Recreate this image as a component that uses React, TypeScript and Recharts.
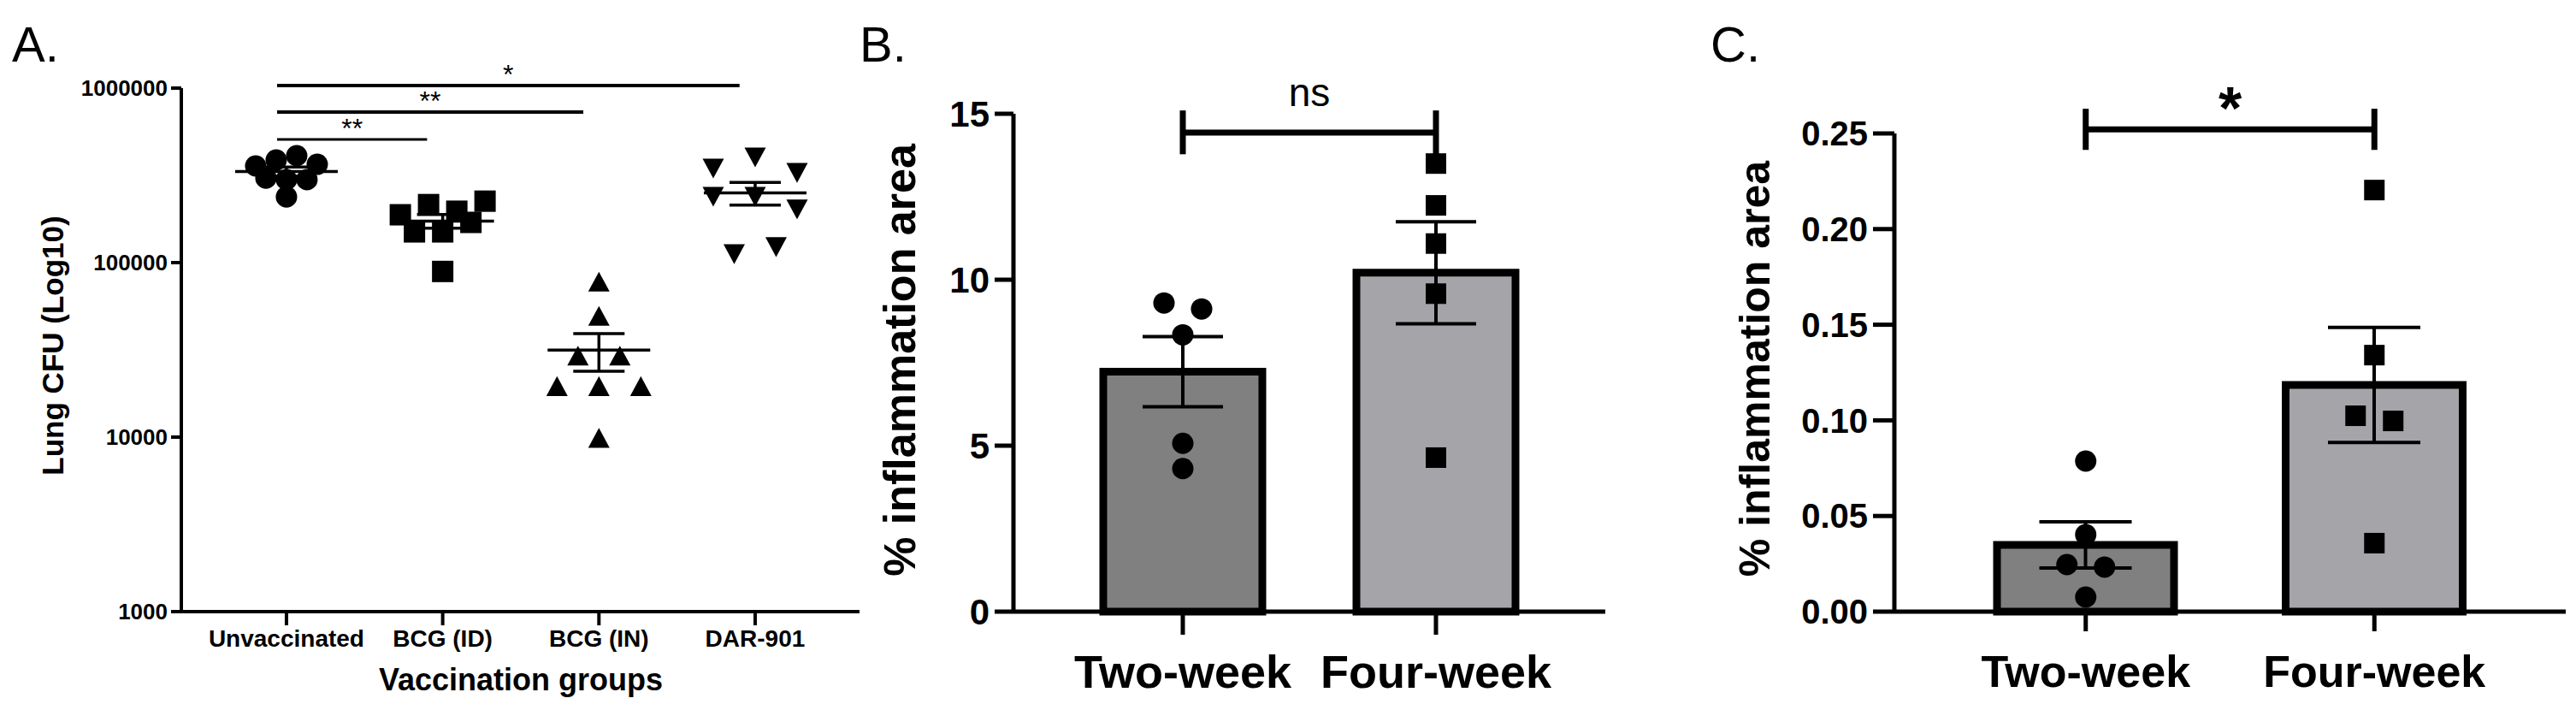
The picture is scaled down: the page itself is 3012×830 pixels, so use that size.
import React from "react";
import {
  ScatterChart,
  ComposedChart,
  Scatter,
  Bar,
  Cell,
  XAxis,
  YAxis,
  ErrorBar,
  ReferenceLine,
} from "recharts";

// Panel A: lung CFU per vaccination group (log axis)
const GROUPS_A = ["Unvaccinated", "BCG (ID)", "BCG (IN)", "DAR-901"];
const UNVACCINATED = [358000, 387000, 410000, 366000, 305000, 299000, 299000, 238000];
const BCG_ID = [188000, 215000, 197000, 225000, 150000, 150000, 170000, 89000];
const BCG_IN = [77000, 49000, 29000, 29000, 19400, 19400, 19400, 9800];
const DAR_901 = [350000, 405000, 330000, 241000, 241000, 204000, 113000, 124000];
const CFU_TICKS = [1000, 10000, 100000, 1000000];
const SIG_A = [
  { to: 3, level: 1035000, text: "*" },
  { to: 2, level: 730000, text: "**" },
  { to: 1, level: 508000, text: "**" },
];

// Panels B and C: % inflammation area
const WEEKS = ["Two-week", "Four-week"];
const B_TWO_WEEK = [9.3, 9.12, 8.34, 5.07, 4.31];
const B_FOUR_WEEK = [13.5, 12.24, 11.09, 9.58, 4.64];
const B_TICKS = [0, 5, 10, 15];
const C_TWO_WEEK = [0.0787, 0.0403, 0.0246, 0.0233, 0.0076];
const C_FOUR_WEEK = [0.2204, 0.1341, 0.1024, 0.0997, 0.0358];
const C_TICKS = [0, 0.05, 0.1, 0.15, 0.2, 0.25];

const FONT = '"Liberation Sans", Arial, sans-serif';
const BAR_COLORS = ["#808080", "#a5a4a9"];

const mean = (v: number[]) => v.reduce((a, b) => a + b, 0) / v.length;
const sem = (v: number[]) => {
  const m = mean(v);
  const sd = Math.sqrt(v.reduce((a, b) => a + (b - m) ** 2, 0) / (v.length - 1));
  return sd / Math.sqrt(v.length);
};

// prism style column scatter: points close in y share a row and are spread sideways
function spread(values: number[], toPx: (v: number) => number, rowPx: number, gap: number) {
  const order = values.map((_, i) => i).sort((a, b) => values[b] - values[a]);
  const dx = new Array(values.length).fill(0);
  let i = 0;
  while (i < order.length) {
    const start = toPx(values[order[i]]);
    let j = i;
    while (j < order.length && start - toPx(values[order[j]]) < rowPx) j++;
    const row = order.slice(i, j).sort((a, b) => a - b);
    row.forEach((idx, k) => {
      dx[idx] = (k - (row.length - 1) / 2) * gap;
    });
    i = j;
  }
  return dx;
}

function Marker({ kind, cx, cy, size }: { kind: string; cx: number; cy: number; size: number }) {
  const h = size / 2;
  if (kind === "circle") return <circle cx={cx} cy={cy} r={h} fill="#000" />;
  if (kind === "square")
    return <rect x={cx - h} y={cy - h} width={size} height={size} fill="#000" />;
  if (kind === "up")
    return <path d={`M${cx},${cy - h} L${cx + h},${cy + h * 0.85} L${cx - h},${cy + h * 0.85} Z`} fill="#000" />;
  return <path d={`M${cx},${cy + h} L${cx + h},${cy - h * 0.85} L${cx - h},${cy - h * 0.85} Z`} fill="#000" />;
}

const PanelA = () => {
  const sets = [UNVACCINATED, BCG_ID, BCG_IN, DAR_901];
  const kinds = ["circle", "square", "up", "down"];
  const gaps = [24, 33, 49, 49];
  const pxPerDecade = (715 - 103) / 3;
  const points = sets.map((vals, gi) => {
    const dx = spread(vals, (v) => Math.log10(v) * pxPerDecade, 20, gaps[gi]);
    return vals.map((v, i) => ({ x: gi, value: v, dx: dx[i] }));
  });
  const summary = sets.map((vals, gi) => ({ x: gi, mean: mean(vals), sem: sem(vals) }));

  return (
    <ScatterChart width={1010} height={830} margin={{ top: 103, right: 5, bottom: 15, left: 0 }}>
      <XAxis
        type="number"
        dataKey="x"
        domain={[-0.673, 3.668]}
        allowDataOverflow
        ticks={[0, 1, 2, 3]}
        interval={0}
        tickFormatter={(i: number) => GROUPS_A[i]}
        height={100}
        tickSize={16}
        tickMargin={5}
        axisLine={{ stroke: "#000", strokeWidth: 4 }}
        tickLine={{ stroke: "#000", strokeWidth: 4 }}
        tick={{ fontSize: 28, fontWeight: "bold", fill: "#000", fontFamily: FONT }}
      />
      <YAxis
        type="number"
        scale="log"
        domain={[1000, 1000000]}
        allowDataOverflow
        ticks={CFU_TICKS}
        interval={0}
        width={212}
        tickSize={12}
        tickMargin={4}
        axisLine={{ stroke: "#000", strokeWidth: 4 }}
        tickLine={{ stroke: "#000", strokeWidth: 4 }}
        tick={{ fontSize: 26, fontWeight: "bold", fill: "#000", fontFamily: FONT }}
      />
      {points.map((pts, gi) => (
        <Scatter
          key={GROUPS_A[gi]}
          data={pts}
          dataKey="value"
          isAnimationActive={false}
          shape={(p: any) => <Marker kind={kinds[gi]} cx={p.cx + p.payload.dx} cy={p.cy} size={25} />}
        />
      ))}
      <Scatter
        data={summary}
        dataKey="mean"
        isAnimationActive={false}
        shape={(p: any) => (
          <line x1={p.cx - 60} x2={p.cx + 60} y1={p.cy} y2={p.cy} stroke="#000" strokeWidth={3.5} />
        )}
      >
        <ErrorBar dataKey="sem" direction="y" width={30} stroke="#000" strokeWidth={3.5} />
      </Scatter>
      {SIG_A.map((s, i) => (
        <ReferenceLine
          key={i}
          segment={[
            { x: -0.06, y: s.level },
            { x: s.to - 0.1, y: s.level },
          ]}
          ifOverflow="visible"
          stroke="#000"
          strokeWidth={i === 2 ? 3 : 4}
          label={{ value: s.text, position: "top", offset: 2, fontSize: 32, fill: "#000", fontFamily: FONT }}
        />
      ))}
    </ScatterChart>
  );
};

type BarPanelProps = {
  two: number[];
  four: number[];
  ticks: number[];
  fmt: (v: number) => string;
  width: number;
  top: number;
  right: number;
  yWidth: number;
  pad: number;
  barSize: number;
  cap: number;
  tickFont: number;
  catFont: number;
  yTickSize: number;
  xTickSize: number;
  bracket: { y: number; lo: number; hi: number; text: string; size: number; bold: boolean; offset: number };
};

const BarPanel = (props: BarPanelProps) => {
  const { two, four, ticks, width, top, right } = props;
  const plotPx = 830 - 15 - 100 - top;
  const pxPerUnit = plotPx / ticks[ticks.length - 1];
  const bars = WEEKS.map((name, i) => {
    const vals = i === 0 ? two : four;
    return { name, mean: mean(vals), sem: sem(vals) };
  });
  const pts = [two, four].map((vals, i) => {
    const dx = spread(vals, (v) => v * pxPerUnit, 20, 44);
    return vals.map((v, k) => ({ name: WEEKS[i], value: v, dx: dx[k] }));
  });
  const axisStyle = { stroke: "#000", strokeWidth: 5 };
  const b = props.bracket;

  return (
    <ComposedChart width={width} height={830} data={bars} margin={{ top, right, bottom: 15, left: 0 }}>
      <XAxis
        dataKey="name"
        type="category"
        allowDuplicatedCategory={false}
        padding={{ left: props.pad, right: props.pad }}
        height={100}
        tickSize={props.xTickSize}
        tickMargin={51 - props.xTickSize}
        axisLine={axisStyle}
        tickLine={axisStyle}
        tick={{ fontSize: props.catFont, fontWeight: "bold", fill: "#000", fontFamily: FONT }}
      />
      <YAxis
        type="number"
        domain={[ticks[0], ticks[ticks.length - 1]]}
        ticks={ticks}
        interval={0}
        tickFormatter={props.fmt}
        width={props.yWidth}
        tickSize={props.yTickSize}
        tickMargin={6}
        axisLine={axisStyle}
        tickLine={axisStyle}
        tick={{ fontSize: props.tickFont, fontWeight: "bold", fill: "#000", fontFamily: FONT }}
      />
      <Bar dataKey="mean" barSize={props.barSize} stroke="#000" strokeWidth={9} isAnimationActive={false}>
        {bars.map((_, i) => (
          <Cell key={i} fill={BAR_COLORS[i]} />
        ))}
        <ErrorBar dataKey="sem" direction="y" width={props.cap} stroke="#000" strokeWidth={4} />
      </Bar>
      {pts.map((p, i) => (
        <Scatter
          key={WEEKS[i]}
          data={p}
          dataKey="value"
          isAnimationActive={false}
          shape={(s: any) => (
            <Marker kind={i === 0 ? "circle" : "square"} cx={s.cx + s.payload.dx} cy={s.cy} size={i === 0 ? 25 : 24} />
          )}
        />
      ))}
      <ReferenceLine
        segment={[
          { x: WEEKS[0], y: b.y },
          { x: WEEKS[1], y: b.y },
        ]}
        ifOverflow="visible"
        stroke="#000"
        strokeWidth={7}
        label={{
          value: b.text,
          position: "top",
          offset: b.offset,
          fontSize: b.size,
          fontWeight: b.bold ? "bold" : "normal",
          fill: "#000",
          fontFamily: FONT,
        }}
      />
      {WEEKS.map((w) => (
        <ReferenceLine
          key={w}
          segment={[
            { x: w, y: b.lo },
            { x: w, y: b.hi },
          ]}
          ifOverflow="visible"
          stroke="#000"
          strokeWidth={7}
        />
      ))}
    </ComposedChart>
  );
};

export default function App() {
  const txt = { fontFamily: FONT, fill: "#000" };
  return (
    <div style={{ position: "absolute", left: 0, top: 0, width: 3012, height: 830, background: "#fff" }}>
      <div style={{ position: "absolute", left: 0, top: 0 }}>
        <PanelA />
      </div>
      <div style={{ position: "absolute", left: 1010, top: 0 }}>
        <BarPanel
          two={B_TWO_WEEK}
          four={B_FOUR_WEEK}
          ticks={B_TICKS}
          fmt={(v) => String(v)}
          width={880}
          top={133}
          right={13}
          yWidth={175}
          pad={50}
          barSize={186}
          cap={47}
          tickFont={42}
          catFont={54}
          yTickSize={22}
          xTickSize={27}
          bracket={{ y: 14.43, lo: 13.78, hi: 15.1, text: "ns", size: 46, bold: false, offset: 31 }}
        />
      </div>
      <div style={{ position: "absolute", left: 2000, top: 0 }}>
        <BarPanel
          two={C_TWO_WEEK}
          four={C_FOUR_WEEK}
          ticks={C_TICKS}
          fmt={(v) => v.toFixed(2)}
          width={1012}
          top={156}
          right={12}
          yWidth={215}
          pad={55}
          barSize={207}
          cap={54}
          tickFont={40}
          catFont={52}
          yTickSize={25}
          xTickSize={23}
          bracket={{ y: 0.2521, lo: 0.2414, hi: 0.2629, text: "*", size: 70, bold: true, offset: 0 }}
        />
      </div>
      <svg width={3012} height={830} style={{ position: "absolute", left: 0, top: 0, pointerEvents: "none" }}>
        <text x={14} y={72} fontSize={58} {...txt}>A.</text>
        <text x={1005} y={72} fontSize={58} {...txt}>B.</text>
        <text x={2000} y={72} fontSize={58} {...txt}>C.</text>
        <text transform="translate(61,404) rotate(-90)" textAnchor="middle" dominantBaseline="central" fontSize={35} fontWeight="bold" {...txt}>
          Lung CFU (Log10)
        </text>
        <text x={609} y={794} textAnchor="middle" dominantBaseline="central" fontSize={36} fontWeight="bold" {...txt}>
          Vaccination groups
        </text>
        <text transform="translate(1052,421) rotate(-90)" textAnchor="middle" dominantBaseline="central" fontSize={52} fontWeight="bold" {...txt}>
          % inflammation area
        </text>
        <text transform="translate(2052,431) rotate(-90)" textAnchor="middle" dominantBaseline="central" fontSize={50} fontWeight="bold" {...txt}>
          % inflammation area
        </text>
      </svg>
    </div>
  );
}
